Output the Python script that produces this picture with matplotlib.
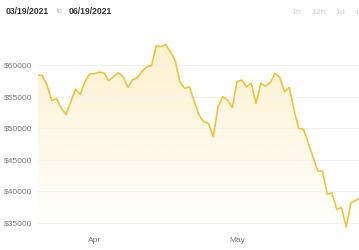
import numpy as np
import pandas as pd
import matplotlib
matplotlib.use("Agg")
import matplotlib.pyplot as plt
import matplotlib.dates as mdates
from matplotlib.patches import Polygon

plt.rcParams['font.family'] = ['Liberation Sans', 'DejaVu Sans']

startDate = '2021-03-20'
# daily price (USD)
prices = [58413, 58333, 56825, 54333, 54714, 53127, 52175, 54175, 56143, 55349,
          57349, 58571, 58619, 58889, 58762, 57508, 58143, 58778, 58143, 56460,
          57619, 57984, 58937, 59730, 59889, 63063, 62905, 63222, 62063, 60635,
          57302, 56302, 56556, 54175, 52064, 51000, 50746, 48619, 53381, 54968,
          54444, 53286, 57349, 57619, 56556, 57143, 53921, 57095, 56667, 57190,
          58683, 58048, 55762, 56460, 52857, 49952, 49810, 47619, 45397, 43222,
          43175, 39524, 39730, 37095, 37413, 34333, 38143, 38524, 38968]
yTicks = [35000, 40000, 45000, 50000, 55000, 60000]
xTickDates = ['2021-04-01', '2021-05-01']
xTickLabels = ['Apr', 'May']
rangeLabels = ['1h', '12h', '1d', '1w']

dates = pd.date_range(startDate, periods=len(prices), freq='D')
x = mdates.date2num(dates)
y = np.array(prices)

lineColor = '#ecc43c'

fig = plt.figure(figsize=(3.59, 2.5), dpi=100)
ax = fig.add_axes([37.5 / 359, 20 / 250, 321.5 / 359, 195 / 250])

x0 = x[0]
x1 = x0 + 321.5 / 4.75
ylo, yhi = 33840, 64760
ax.set_xlim(x0, x1)
ax.set_ylim(ylo, yhi)

# gradient fill under the line
grad = np.zeros((256, 1, 4))
grad[:, 0, 0] = 247 / 255
grad[:, 0, 1] = 205 / 255
grad[:, 0, 2] = 80 / 255
grad[:, 0, 3] = np.linspace(0.28, 0.0, 256)
top = y.max()
img = ax.imshow(grad, aspect='auto', extent=(x0, x[-1], ylo, top),
                origin='upper', zorder=1)
poly = Polygon(np.column_stack([np.r_[x[0], x, x[-1]], np.r_[ylo, y, ylo]]),
               closed=True, facecolor='none', edgecolor='none')
ax.add_patch(poly)
img.set_clip_path(poly)

for t in yTicks:
    ax.axhline(t, color='#f1f1f1', lw=0.8, zorder=2)

ax.plot(x, y, color=lineColor, lw=1.2, zorder=3, solid_joinstyle='round')

for s in ax.spines.values():
    s.set_visible(False)
ax.set_yticks(yTicks)
ax.set_yticklabels(['$' + str(t) for t in yTicks])
ax.set_xticks(mdates.date2num(pd.to_datetime(xTickDates)))
ax.set_xticklabels(xTickLabels)
ax.tick_params(axis='y', length=0, pad=3.5, labelsize=6, labelcolor='#777777')
ax.tick_params(axis='x', length=0, pad=5, labelsize=6, labelcolor='#777777')

# header
fig.text(6 / 359, 1 - 11 / 250, '03/19/2021', fontsize=6.2, fontweight='bold',
         color='#333333', va='center')
fig.text(57 / 359, 1 - 11.5 / 250, 'to', fontsize=5, color='#bbbbbb', va='center')
fig.text(69 / 359, 1 - 11 / 250, '06/19/2021', fontsize=6.2, fontweight='bold',
         color='#333333', va='center')
for lab, px in zip(rangeLabels, [291, 311, 335, 354]):
    fig.text(px / 359, 1 - 12 / 250, lab, fontsize=6, fontweight='bold',
             color='#dddddd', va='center')

fig.savefig('out.png', dpi=100)
